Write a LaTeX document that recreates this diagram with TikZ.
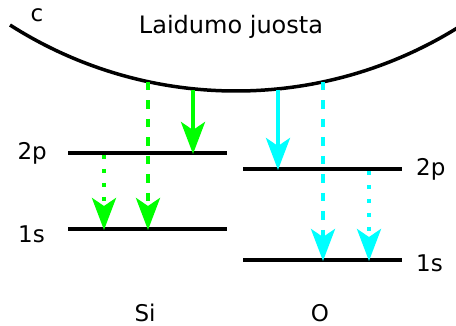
\documentclass[tikz,border=0pt]{standalone}
\usepackage{fontspec}
\setmainfont{DejaVu Sans}
\usetikzlibrary{arrows.meta}
\definecolor{sigreen}{RGB}{0,255,0}
\definecolor{ocyan}{RGB}{0,255,255}
\tikzset{
  level/.style={line width=4pt},
  lbl/.style={font=\fontsize{23}{27}\selectfont, inner sep=0pt},
  tr/.style={line width=4pt, -{Stealth[length=32pt,width=24pt,inset=8pt]}, shorten >=-1pt},
  trsolid/.style={tr},
  trdash/.style={tr, dash pattern=on 8.5pt off 10pt},
  trdot/.style={tr, dash pattern=on 4pt off 10pt},
}
\begin{document}
\begin{tikzpicture}[x=1pt,y=-1pt]
\useasboundingbox (0,0) rectangle (456,326);
% conduction band
\draw[line width=3.5pt] plot[domain=10:460, samples=120] (\x, {-329+10*sqrt(1764-((\x-236)/10)^2)});
\node[lbl] (c) at (37,15) {c};
\node[lbl, font=\fontsize{24}{28}\selectfont] (cb) at (231,27) {Laidumo juosta};
% Si levels
\coordinate (si2pL) at (68,153); \coordinate (si2pR) at (227,153);
\coordinate (si1sL) at (68,229); \coordinate (si1sR) at (227,229);
\draw[level] (si2pL) -- (si2pR);
\draw[level] (si1sL) -- (si1sR);
\node[lbl, anchor=east] (l2p) at (47,153) {2p};
\node[lbl, anchor=east] (l1s) at (45,234) {1s};
% O levels
\coordinate (o2pL) at (243,169); \coordinate (o2pR) at (402,169);
\coordinate (o1sL) at (243,260); \coordinate (o1sR) at (402,260);
\draw[level] (o2pL) -- (o2pR);
\draw[level] (o1sL) -- (o1sR);
\node[lbl, anchor=west] (r2p) at (416,169) {2p};
\node[lbl, anchor=west] (r1s) at (416,263) {1s};
% element labels
\node[lbl] (si) at (145,313) {Si};
\node[lbl] (o) at (320,313) {O};
% transitions Si
\coordinate (a1s) at (193,90); \coordinate (a1e) at (193,153);
\coordinate (a2s) at (148,82); \coordinate (a2e) at (148,229);
\coordinate (a3s) at (104,155); \coordinate (a3e) at (104,229);
\draw[trsolid, sigreen] (a1s) -- (a1e);
\draw[trdash, sigreen] (a2s) -- (a2e);
\draw[trdot, sigreen] (a3s) -- (a3e);
% transitions O
\coordinate (b1s) at (278,90); \coordinate (b1e) at (278,169);
\coordinate (b2s) at (323,82); \coordinate (b2e) at (323,260);
\coordinate (b3s) at (369,171); \coordinate (b3e) at (369,260);
\draw[trsolid, ocyan] (b1s) -- (b1e);
\draw[trdash, ocyan] (b2s) -- (b2e);
\draw[trdot, ocyan] (b3s) -- (b3e);
\end{tikzpicture}
\end{document}
